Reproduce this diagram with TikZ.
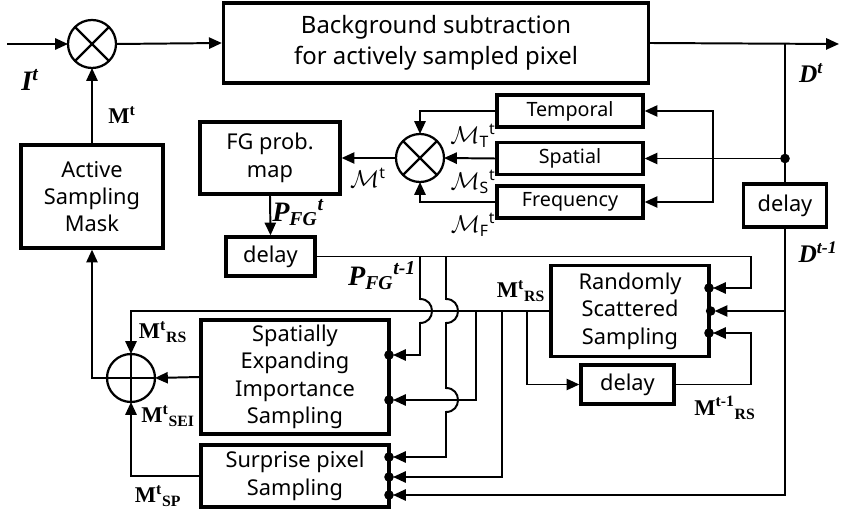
\documentclass[tikz,border=0pt]{standalone}
\usepackage{fontspec}
\usepackage{amsmath}
\setmainfont{Noto Sans}
\newfontfamily\tnr{Liberation Serif}
\usetikzlibrary{arrows.meta, positioning, calc}
\tikzset{
  block/.style={rectangle, draw, line width=2.3pt, align=center, inner sep=0pt,
    font=\fontsize{15.5}{19.5}\selectfont},
  fblock/.style={block, minimum width=3.65cm, minimum height=0.8cm,
    font=\fontsize{14}{17}\selectfont},
  mixer/.style={circle, draw, line width=1.6pt, minimum size=1.2cm,
    inner sep=0pt, outer sep=0pt},
  arrow/.style={-{Triangle[length=0.32cm, width=0.28cm]}, line width=1.4pt},
  line/.style={line width=1.4pt},
  dotarrow/.style={arrow, shorten >=0.1cm},
  sym/.style={font=\tnr\bfseries\fontsize{16}{16}\selectfont, inner sep=0pt},
  isym/.style={font=\tnr\bfseries\itshape\fontsize{18}{18}\selectfont, inner sep=0pt},
  msym/.style={font=\fontsize{16}{16}\selectfont, inner sep=0pt}
}

\begin{document}
\begin{tikzpicture}[x=0.025cm, y=-0.025cm]
  \useasboundingbox (0,0) rectangle (841,511);

  % Blocks
  \node[mixer] (mul) at (92,44) {};
  \draw[line width=1.6pt] (mul.north west) -- (mul.south east)
    (mul.north east) -- (mul.south west);
  \node[block, minimum width=10.625cm, minimum height=2cm,
    font=\fontsize{17}{22}\selectfont] (bgs) at (436,43)
    {Background subtraction\\for actively sampled pixel};
  \node[block, minimum width=3.55cm, minimum height=2.575cm] (asm) at (92,196.5)
    {Active\\Sampling\\Mask};
  \node[block, minimum width=3.5cm, minimum height=1.8cm] (fgmap) at (270,158)
    {FG prob.\\map};
  \node[block, minimum width=2.225cm, minimum height=0.975cm] (dlyfg) at (270.5,256.5)
    {delay};
  \node[mixer] (mulm) at (420,158) {};
  \draw[line width=1.6pt] (mulm.north west) -- (mulm.south east)
    (mulm.north east) -- (mulm.south west);
  \node[fblock] (temp) at (570,111) {Temporal};
  \node[fblock] (spat) at (570,158.5) {Spatial};
  \node[fblock] (freq) at (570,202) {Frequency};
  \node[block, minimum width=2.075cm, minimum height=1.075cm] (dlyd) at (785,205.5)
    {delay};
  \node[block, minimum width=3.95cm, minimum height=2.275cm] (rss) at (630,311)
    {Randomly\\Scattered\\Sampling};
  \node[block, minimum width=2.325cm, minimum height=0.975cm] (dlyrs) at (627.5,384.5)
    {delay};
  \node[block, minimum width=4.7cm, minimum height=2.85cm] (sei) at (295,377)
    {Spatially\\Expanding\\Importance\\Sampling};
  \node[block, minimum width=4.7cm, minimum height=1.55cm] (sps) at (295,476)
    {Surprise pixel\\Sampling};
  \node[mixer] (add) at (131,378) {};
  \draw[line width=1.6pt] (add.north) -- (add.south) (add.west) -- (add.east);

  % Free ends and taps
  \coordinate (in) at (7,44);
  \coordinate (out) at (839,44);
  \coordinate (dtap) at (785,44);
  \coordinate (ddot) at (785,158.5);
  \coordinate (dfan) at (713,158.5);
  \coordinate (dtap2) at (785,311);
  \coordinate (dcor) at (785,495);
  \coordinate (pright) at (751,256.5);
  \coordinate (pa) at (420,256.5);
  \coordinate (pb) at (446,256.5);
  \coordinate (ma) at (476,311);
  \coordinate (mb) at (502,311);
  \coordinate (mc) at (527,311);
  \coordinate (mfb) at (751,333);
  \coordinate (rs1) at (709,288);
  \coordinate (rs3) at (709,333);
  \coordinate (se1) at (389,355);
  \coordinate (se2) at (389,400);
  \coordinate (sp1) at (389,457);
  \coordinate (sp2) at (389,477);
  \coordinate (sp3) at (389,495);

  % Main path
  \draw[arrow] (in) -- (mul.west);
  \draw[arrow] (mul.east) -- (bgs.west);
  \draw[arrow] (bgs.east) -- (out);
  \draw[line] (dtap) -- (dlyd.north);
  \fill (ddot) circle (0.12cm);

  % Feature maps
  \draw[arrow] (ddot) -- (spat.east);
  \draw[line] (ddot) -- (dfan);
  \draw[arrow] (dfan) |- (temp.east);
  \draw[arrow] (dfan) |- (freq.east);
  \draw[arrow] (temp.west) -| (mulm.north);
  \draw[arrow] (spat.west) -- (mulm.east);
  \draw[arrow] (freq.west) -| (mulm.south);
  \draw[arrow] (mulm.west) -- (fgmap.east);
  \draw[arrow] (fgmap.south) -- (dlyfg.north);

  % Previous FG probability
  \draw[line] (dlyfg.east) -- (pright);
  \draw[dotarrow] (pright) |- (rs1);
  \draw[dotarrow] (pa) -- (420,299) .. controls (436,299) and (436,323) .. (420,323)
    |- (se1);
  \draw[dotarrow] (pb) -- (446,299) .. controls (462,299) and (462,323) .. (446,323)
    -- (446,388) .. controls (462,388) and (462,412) .. (446,412) |- (sp1);

  % Randomly scattered mask
  \draw[arrow] (rss.west) -| (add.north);
  \draw[dotarrow] (ma) |- (se2);
  \draw[dotarrow] (mb) |- (sp2);
  \draw[arrow] (mc) |- (dlyrs.west);
  \draw[dotarrow] (dlyrs.east) -| (mfb) -- (rs3);

  % Previous detection
  \draw[dotarrow] (dlyd.south) -- (dcor) -- (sp3);
  \draw[dotarrow] (dtap2) -- (rss.east);

  % Mask combination
  \draw[arrow] (sei.west) -- (add.east);
  \draw[arrow] (sps.west) -| (add.south);
  \draw[arrow] (add.west) -| (asm.south);
  \draw[arrow] (asm.north) -- (mul.south);

  % Input dots
  \foreach \p in {rs1, rss.east, rs3, se1, se2, sp1, sp2, sp3}
    \fill (\p) circle (0.12cm);

  % Labels
  \node[isym, font=\tnr\bfseries\itshape\fontsize{20}{20}\selectfont] (lit) at (30,80) {I\textsuperscript{t}};
  \node[sym] (lmt) at (122,115) {M\textsuperscript{t}};
  \node[isym] (ldt) at (811,73) {D\textsuperscript{t}};
  \node[isym] (ldt1) at (818,252) {D\textsuperscript{t-1}};
  \node[msym] (lm) at (368,178) {$\mathcal{M}^{\text{t}}$};
  \node[msym] (lmtt) at (473,136) {$\mathcal{M}_{\text{T}}{}^{\text{t}}$};
  \node[msym] (lms) at (473,182) {$\mathcal{M}_{\text{S}}{}^{\text{t}}$};
  \node[msym] (lmf) at (473,225) {$\mathcal{M}_{\text{F}}{}^{\text{t}}$};
  \node[isym, font=\tnr\bfseries\itshape\fontsize{20}{20}\selectfont] (lpfg) at (298,213) {P\textsubscript{FG}\textsuperscript{t}};
  \node[isym, font=\tnr\bfseries\itshape\fontsize{20}{20}\selectfont] (lpfg1) at (382,276) {P\textsubscript{FG}\textsuperscript{t-1}};
  \node[sym] (lrs) at (521,291) {M\textsuperscript{t}\textsubscript{RS}};
  \node[sym] (lrs2) at (163,332) {M\textsuperscript{t}\textsubscript{RS}};
  \node[sym] (lsei) at (168,416) {M\textsuperscript{t}\textsubscript{SEI}};
  \node[sym] (lsp) at (158,496) {M\textsuperscript{t}\textsubscript{SP}};
  \node[sym] (lrs1) at (725,408) {M\textsuperscript{t-1}\textsubscript{RS}};
\end{tikzpicture}
\end{document}
